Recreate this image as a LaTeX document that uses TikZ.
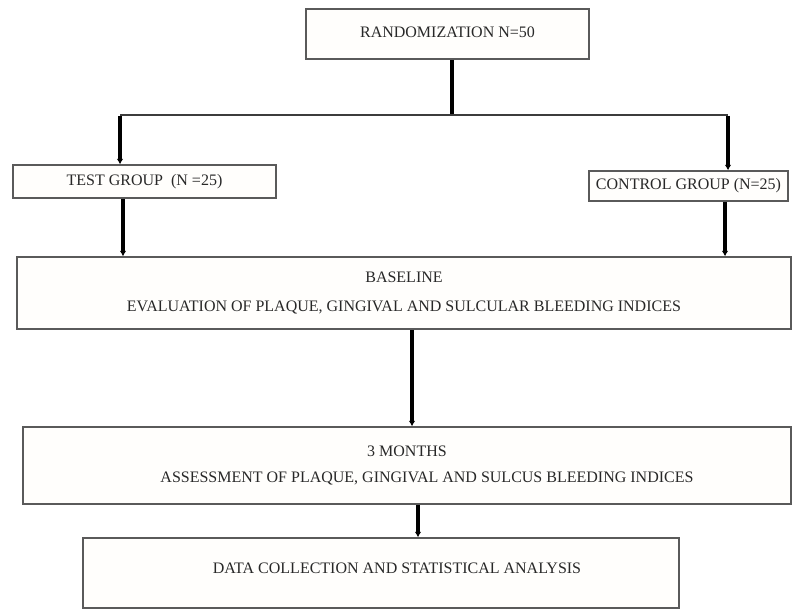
\documentclass[tikz,border=0pt]{standalone}
\usepackage{fontspec}
\setmainfont{Liberation Serif}
\usetikzlibrary{arrows.meta}

\tikzset{
  stagebox/.style={draw={rgb,255:red,90;green,90;blue,90},line width=1.2pt,fill={rgb,255:red,255;green,254;blue,252},inner sep=0.75pt,align=center,font=\fontsize{12}{14}\selectfont,text={rgb,255:red,40;green,40;blue,40}},
  flowline/.style={line width=2.6pt,draw=black},
  flowarrow/.style={flowline,-{Latex[length=4pt,width=5pt]}},
}

\begin{document}
\begin{tikzpicture}[x=0.75pt,y=0.75pt,yscale=-1,xscale=1]
\useasboundingbox (0,0) rectangle (794,610);

%Shape: Rectangle [randomization]
\node [stagebox,minimum width=212.25pt,minimum height=37.5pt] (rand) at (447.5,34) {\raisebox{3pt}{RANDOMIZATION N=50}};
%Shape: Rectangle [test group]
\node [stagebox,minimum width=197.25pt,minimum height=24.75pt] (test) at (144.5,181.5) {TEST GROUP~~(N =25)};
%Shape: Rectangle [control group]
\node [stagebox,minimum width=149.25pt,minimum height=22.5pt] (ctrl) at (688.5,186) {CONTROL GROUP (N=25)};
%Shape: Rectangle [baseline]
\node [stagebox,minimum width=580.5pt,minimum height=54pt] (base) at (404,293) {BASELINE\\[8pt]EVALUATION OF PLAQUE, GINGIVAL AND SULCULAR BLEEDING INDICES};
%Shape: Rectangle [3 months]
\node [stagebox,minimum width=576pt,minimum height=57.75pt] (months) at (407,465.5) {3 MONTHS\\[6pt]\hspace*{30pt}ASSESSMENT OF PLAQUE, GINGIVAL AND SULCUS BLEEDING INDICES};
%Shape: Rectangle [analysis]
\node [stagebox,minimum width=447pt,minimum height=52.5pt] (data) at (381,573) {\hspace*{24pt}\raisebox{7pt}{DATA COLLECTION AND STATISTICAL ANALYSIS}};

% branch points
\coordinate (split) at (452,115);
\coordinate (lbranch) at (120,115);
\coordinate (rbranch) at (728,115);

%Straight Lines
\draw [flowline,line width=3.2pt] (rand.south -| split) -- (split);
\draw [line width=1.1pt,draw={rgb,255:red,60;green,60;blue,60}] (lbranch) -- (rbranch);
\draw [flowarrow] ([yshift=0.6pt]lbranch) -- (lbranch |- test.north);
\draw [flowarrow] ([yshift=0.6pt]rbranch) -- (rbranch |- ctrl.north);
\draw [flowarrow] ([xshift=2.25pt]test.south -| lbranch) -- ([xshift=2.25pt]base.north -| lbranch);
\draw [flowarrow] ([xshift=-2.25pt]ctrl.south -| rbranch) -- ([xshift=-2.25pt]base.north -| rbranch);
\draw [flowarrow] (base.south -| 412,0) -- (months.north -| 412,0);
\draw [flowarrow] (months.south -| 418,0) -- (data.north -| 418,0);

\end{tikzpicture}
\end{document}
